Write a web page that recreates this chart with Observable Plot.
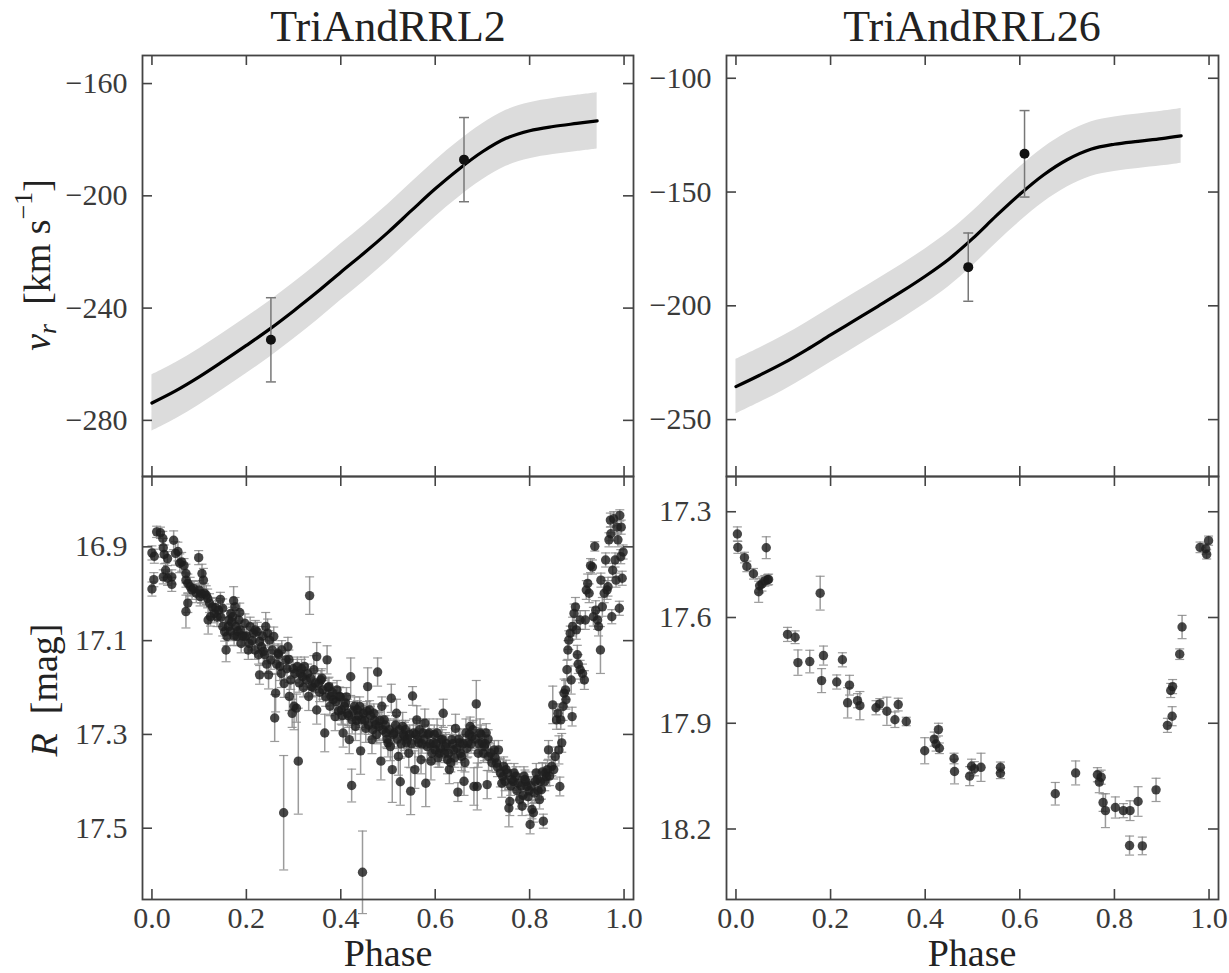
<!DOCTYPE html>
<html><head><meta charset="utf-8">
<script src="https://cdn.jsdelivr.net/npm/d3@7"></script>
<script src="https://cdn.jsdelivr.net/npm/@observablehq/plot@0.6"></script>
<style>
body{margin:0;background:#fff;}
#wrap{position:relative;width:1229px;height:973px;font-family:"Liberation Serif","Times New Roman","DejaVu Serif",Times,serif;color:#222;overflow:hidden;}
.lbl{position:absolute;white-space:nowrap;line-height:1;}
.sm{font-size:0.68em;}
svg text{font-family:"Liberation Serif","Times New Roman","DejaVu Serif",Times,serif !important;}
</style></head><body><div id="wrap"></div>
<script>
// ---------- data ----------
const phaseTicks = [0, 0.2, 0.4, 0.6, 0.8, 1.0];
const vTicks2 = [-280, -240, -200, -160];
const vTicks26 = [-250, -200, -150, -100];
const rTicks2 = [16.9, 17.1, 17.3, 17.5];
const rTicks26 = [17.3, 17.6, 17.9, 18.2];

// model curves: [phase, v, lower, upper]
const model2 = [[0,-273.8,-283.8,-263.8],[0.05,-269.5,-279.5,-259.5],[0.1,-264.5,-274.5,-254.5],[0.15,-259,-269,-249],[0.2,-253.3,-263.3,-243.3],[0.25,-247.4,-257.4,-237.4],[0.3,-241,-251,-231],[0.35,-234.3,-244.3,-224.3],[0.4,-227.2,-237.2,-217.2],[0.45,-220.3,-230.3,-210.3],[0.5,-213,-223,-203],[0.55,-205.2,-215.2,-195.2],[0.6,-197.5,-207.5,-187.5],[0.65,-190.5,-200.5,-180.5],[0.7,-184.3,-194.3,-174.3],[0.75,-179.5,-189.5,-169.5],[0.8,-176.8,-186.8,-166.8],[0.85,-175.3,-185.3,-165.3],[0.9,-174.2,-184.2,-164.2],[0.943,-173.3,-183.3,-163.3]];
const model26 = [[0,-235.5,-247.5,-223.5],[0.05,-230.5,-242.5,-218.5],[0.1,-225.2,-237.2,-213.2],[0.15,-219.2,-231.2,-207.2],[0.2,-212.8,-224.8,-200.8],[0.25,-206.5,-218.5,-194.5],[0.3,-200.2,-212.2,-188.2],[0.35,-193.8,-205.8,-181.8],[0.4,-187,-199,-175],[0.45,-179.5,-191.5,-167.5],[0.5,-170.5,-182.5,-158.5],[0.55,-160.5,-172.5,-148.5],[0.6,-151,-163,-139],[0.65,-142.5,-154.5,-130.5],[0.7,-135.8,-147.8,-123.8],[0.75,-131.2,-143.2,-119.2],[0.8,-129,-141,-117],[0.85,-127.7,-139.7,-115.7],[0.9,-126.5,-138.5,-114.5],[0.941,-125.3,-137.3,-113.3]];

// radial velocity observations: [phase, v, err]
const rv2 = [[0.252,-251.3,15],[0.661,-187.1,15]];
const rv26 = [[0.491,-183.0,15],[0.610,-133.2,19]];

// light curves: [phase, R, err]
const lc2 = [[0.000,16.913,.015],[0.005,16.92,.015],[0.004,16.97,.015],[0.000,16.99,.015],[0.010,16.868,.012],[0.018,16.87,.012],[0.023,16.882,.015],[0.024,16.902,.02],[0.026,16.916,.02],[0.033,16.925,.015],[0.029,16.95,.015],[0.024,16.964,.015],[0.033,16.967,.015],[0.042,16.964,.015],[0.046,16.886,.02],[0.050,16.914,.025],[0.055,16.91,.02],[0.042,16.98,.015],[0.059,16.935,.02],[0.063,16.932,.02],[0.068,16.94,.015],[0.072,16.957,.02],[0.072,16.971,.015],[0.076,16.978,.02],[0.072,17.038,.035],[0.076,17.02,.02],[0.081,16.985,.02],[0.085,16.992,.02],[0.089,16.989,.015],[0.094,16.999,.02],[0.099,16.923,.015],[0.100,16.992,.02],[0.102,17.006,.02],[0.106,16.957,.02],[0.109,16.971,.025],[0.111,16.999,.02],[0.115,17.003,.02],[0.119,17.056,.03],[0.124,17.049,.02],[0.128,17.028,.02],[0.132,17.042,.02],[0.141,17.035,.02],[0.145,17.012,.015],[0.150,17.031,.02],[0.150,17.07,.02],[0.154,17.081,.02],[0.157,17.12,.025],[0.159,17.091,.02],[0.163,17.056,.02],[0.167,17.042,.02],[0.171,17.049,.02],[0.173,17.015,.03],[0.176,17.028,.02],[0.178,17.07,.025],[0.180,17.091,.02],[0.184,17.056,.02],[0.187,17.077,.02],[0.189,17.106,.02],[0.196,17.091,.02],[0.197,17.063,.02],[0.206,17.106,.02],[0.208,17.07,.02],[0.215,17.084,.02],[0.219,17.077,.02],[0.223,17.081,.02],[0.228,17.102,.02],[0.228,17.173,.02],[0.232,17.113,.02],[0.236,17.123,.025],[0.241,17.07,.03],[0.245,17.084,.03],[0.247,17.173,.03],[0.249,17.099,.02],[0.252,17.141,.02],[0.258,17.091,.02],[0.260,17.265,.05],[0.262,17.212,.04],[0.267,17.127,.02],[0.271,17.155,.03],[0.274,17.17,.03],[0.275,17.12,.02],[0.279,17.467,.122],[0.280,17.191,.03],[0.284,17.141,.02],[0.288,17.113,.02],[0.291,17.219,.03],[0.294,17.184,.02],[0.297,17.255,.03],[0.301,17.24,.05],[0.306,17.244,.03],[0.310,17.357,.113],[0.308,17.155,.02],[0.314,17.17,.02],[0.319,17.177,.02],[0.323,17.155,.02],[0.327,17.184,.02],[0.332,17.219,.03],[0.334,17.004,.04],[0.338,17.198,.02],[0.343,17.162,.03],[0.349,17.134,.03],[0.349,17.248,.03],[0.353,17.191,.02],[0.358,17.184,.02],[0.362,17.205,.02],[0.366,17.297,.04],[0.371,17.141,.03],[0.375,17.198,.02],[0.379,17.219,.02],[0.384,17.226,.02],[0.388,17.262,.03],[0.392,17.205,.02],[0.397,17.219,.02],[0.401,17.248,.03],[0.405,17.297,.03],[0.410,17.233,.02],[0.414,17.255,.03],[0.418,17.311,.03],[0.421,17.177,.04],[0.423,17.409,.035],[0.424,17.269,.03],[0.429,17.24,.02],[0.431,17.283,.03],[0.435,17.248,.02],[0.442,17.335,.05],[0.446,17.594,.088],[0.444,17.269,.03],[0.448,17.255,.02],[0.453,17.287,.03],[0.457,17.198,.04],[0.461,17.248,.02],[0.466,17.311,.03],[0.470,17.255,.02],[0.474,17.279,.03],[0.478,17.167,.03],[0.481,17.283,.03],[0.485,17.357,.04],[0.487,17.24,.02],[0.492,17.269,.03],[0.496,17.297,.03],[0.500,17.318,.03],[0.505,17.326,.03],[0.507,17.223,.03],[0.509,17.375,.07],[0.513,17.297,.03],[0.518,17.255,.03],[0.522,17.347,.04],[0.526,17.401,.05],[0.531,17.283,.03],[0.535,17.304,.03],[0.539,17.318,.03],[0.544,17.34,.03],[0.548,17.421,.05],[0.552,17.218,.02],[0.554,17.297,.03],[0.557,17.375,.04],[0.561,17.269,.03],[0.565,17.318,.03],[0.570,17.354,.03],[0.574,17.297,.03],[0.578,17.276,.03],[0.580,17.404,.05],[0.583,17.326,.03],[0.587,17.297,.03],[0.591,17.357,.04],[0.596,17.318,.03],[0.600,17.333,.03],[0.604,17.297,.03],[0.609,17.34,.03],[0.613,17.311,.03],[0.617,17.255,.03],[0.622,17.326,.03],[0.626,17.354,.03],[0.630,17.375,.03],[0.635,17.311,.03],[0.639,17.333,.03],[0.643,17.287,.03],[0.648,17.423,.02],[0.652,17.318,.03],[0.656,17.347,.03],[0.661,17.40,.03],[0.665,17.297,.03],[0.669,17.318,.03],[0.674,17.283,.02],[0.678,17.304,.03],[0.682,17.411,.04],[0.687,17.235,.05],[0.689,17.411,.05],[0.691,17.34,.03],[0.695,17.297,.03],[0.700,17.318,.03],[0.704,17.326,.03],[0.708,17.297,.02],[0.710,17.407,.03],[0.713,17.347,.03],[0.717,17.34,.02],[0.725,17.333,.02],[0.730,17.361,.02],[0.734,17.333,.02],[0.738,17.382,.03],[0.741,17.404,.03],[0.745,17.368,.02],[0.750,17.375,.02],[0.753,17.382,.02],[0.756,17.457,.04],[0.758,17.443,.03],[0.762,17.396,.02],[0.767,17.382,.02],[0.771,17.389,.02],[0.776,17.404,.02],[0.779,17.439,.02],[0.784,17.453,.02],[0.788,17.389,.02],[0.790,17.396,.02],[0.794,17.411,.02],[0.797,17.433,.02],[0.801,17.492,.02],[0.805,17.46,.02],[0.808,17.467,.02],[0.810,17.425,.02],[0.814,17.382,.02],[0.816,17.396,.02],[0.821,17.439,.02],[0.825,17.418,.02],[0.829,17.485,.015],[0.834,17.382,.02],[0.838,17.375,.02],[0.840,17.333,.02],[0.842,17.389,.02],[0.847,17.368,.02],[0.849,17.237,.04],[0.851,17.375,.02],[0.854,17.347,.02],[0.857,17.269,.02],[0.860,17.255,.02],[0.862,17.333,.03],[0.864,17.411,.02],[0.866,17.269,.02],[0.868,17.318,.02],[0.871,17.24,.03],[0.873,17.212,.03],[0.876,17.205,.02],[0.877,17.226,.02],[0.879,17.162,.02],[0.881,17.12,.02],[0.883,17.099,.02],[0.886,17.084,.015],[0.888,17.184,.03],[0.890,17.262,.02],[0.891,17.07,.02],[0.894,17.042,.02],[0.897,17.028,.02],[0.899,17.077,.02],[0.901,17.13,.02],[0.903,17.15,.02],[0.907,17.056,.02],[0.907,17.162,.02],[0.912,17.17,.02],[0.916,17.184,.02],[0.918,17.056,.02],[0.920,16.992,.02],[0.923,16.978,.02],[0.926,16.999,.02],[0.929,16.94,.015],[0.933,16.943,.015],[0.935,17.049,.02],[0.938,16.899,.01],[0.940,17.035,.02],[0.944,17.056,.02],[0.946,17.07,.02],[0.950,17.12,.05],[0.951,16.971,.015],[0.954,17.028,.02],[0.958,16.999,.02],[0.961,16.928,.015],[0.964,16.992,.02],[0.966,16.985,.02],[0.968,16.885,.015],[0.971,16.843,.015],[0.972,16.872,.015],[0.974,17.049,.015],[0.976,16.95,.015],[0.978,16.84,.015],[0.981,16.928,.015],[0.983,16.971,.015],[0.985,16.858,.015],[0.987,16.885,.015],[0.990,17.031,.015],[0.991,16.833,.012],[0.993,16.921,.015],[0.994,16.858,.015],[0.996,16.967,.015],[0.998,16.911,.015],
[0.105,17.0,.02],[0.118,17.01,.02],[0.122,17.02,.02],[0.135,17.03,.02],[0.138,17.05,.02],[0.146,17.05,.02],[0.162,17.07,.02],[0.166,17.08,.02],[0.169,17.06,.02],[0.174,17.09,.02],[0.182,17.08,.02],[0.186,17.04,.02],[0.192,17.09,.02],[0.2,17.09,.02],[0.204,17.12,.02],[0.212,17.1,.02],[0.218,17.12,.02],[0.226,17.13,.02],[0.234,17.09,.02],[0.239,17.13,.02],[0.243,17.15,.02],[0.255,17.12,.02],[0.264,17.15,.02],[0.268,17.13,.02],[0.286,17.16,.02],[0.29,17.14,.02],[0.299,17.16,.02],[0.303,17.17,.02],[0.312,17.19,.02],[0.317,17.16,.02],[0.321,17.2,.02],[0.33,17.17,.02],[0.336,17.18,.02],[0.341,17.2,.02],[0.346,17.19,.02],[0.355,17.21,.02],[0.36,17.18,.02],[0.368,17.22,.02],[0.373,17.2,.02],[0.377,17.24,.02],[0.382,17.21,.02],[0.39,17.23,.02],[0.395,17.25,.02],[0.399,17.22,.02],[0.403,17.26,.02],[0.408,17.24,.02],[0.412,17.22,.02],[0.416,17.26,.02],[0.426,17.25,.02],[0.433,17.27,.02],[0.438,17.26,.02],[0.44,17.24,.02],[0.451,17.27,.02],[0.455,17.25,.02],[0.459,17.28,.02],[0.463,17.26,.02],[0.468,17.29,.02],[0.472,17.27,.02],[0.476,17.3,.02],[0.483,17.27,.02],[0.489,17.29,.02],[0.494,17.28,.02],[0.498,17.31,.02],[0.503,17.29,.02],[0.511,17.3,.02],[0.516,17.28,.02],[0.52,17.31,.02],[0.524,17.29,.02],[0.528,17.32,.02],[0.533,17.3,.02],[0.537,17.29,.02],[0.541,17.31,.02],[0.546,17.3,.02],[0.55,17.32,.02],[0.559,17.3,.02],[0.563,17.31,.02],[0.567,17.29,.02],[0.572,17.32,.02],[0.576,17.31,.02],[0.585,17.3,.02],[0.589,17.32,.02],[0.593,17.34,.02],[0.598,17.3,.02],[0.602,17.32,.02],[0.606,17.35,.02],[0.611,17.33,.02],[0.615,17.31,.02],[0.62,17.34,.02],[0.624,17.32,.02],[0.628,17.34,.02],[0.633,17.36,.02],[0.637,17.32,.02],[0.641,17.35,.02],[0.646,17.33,.02],[0.65,17.31,.02],[0.654,17.34,.02],[0.659,17.32,.02],[0.663,17.36,.02],[0.667,17.33,.02],[0.672,17.3,.02],[0.676,17.32,.02],[0.68,17.29,.02],[0.685,17.31,.02],[0.693,17.32,.02],[0.697,17.3,.02],[0.702,17.34,.02],[0.706,17.32,.02],[0.712,17.31,.02],[0.72,17.36,.02],[0.727,17.35,.02],[0.732,17.37,.02],[0.743,17.39,.02],[0.748,17.4,.02],[0.76,17.41,.02],[0.765,17.4,.02],[0.773,17.42,.02],[0.782,17.41,.02],[0.786,17.43,.02],[0.792,17.4,.02],[0.799,17.42,.02],[0.803,17.41,.02],[0.812,17.4,.02],[0.818,17.42,.02],[0.823,17.4,.02],[0.827,17.38,.02],[0.832,17.4,.02],[0.836,17.39,.02]];

const lc26 = [[0.003,17.363,.02],[0.004,17.401,.017],[0.018,17.43,.015],[0.023,17.455,.015],[0.037,17.476,.015],[0.048,17.527,.03],[0.05,17.51,.02],[0.055,17.505,.02],[0.061,17.496,.015],[0.064,17.402,.031],[0.067,17.493,.015],[0.069,17.492,.015],[0.178,17.531,.048],[0.109,17.648,.02],[0.125,17.656,.018],[0.131,17.728,.036],[0.156,17.725,.032],[0.185,17.708,.027],[0.181,17.779,.034],[0.213,17.783,.02],[0.225,17.72,.02],[0.24,17.792,.028],[0.236,17.842,.043],[0.257,17.836,.02],[0.262,17.85,.04],[0.296,17.856,.02],[0.304,17.845,.015],[0.319,17.866,.04],[0.336,17.89,.022],[0.343,17.847,.018],[0.36,17.895,.012],[0.399,17.978,.037],[0.419,17.945,.02],[0.428,17.918,.018],[0.423,17.959,.02],[0.43,17.971,.015],[0.461,18.0,.015],[0.462,18.037,.035],[0.494,18.05,.027],[0.498,18.022,.02],[0.504,18.029,.02],[0.518,18.025,.04],[0.559,18.025,.015],[0.559,18.042,.015],[0.675,18.1,.032],[0.718,18.041,.034],[0.764,18.046,.02],[0.772,18.053,.02],[0.768,18.067,.03],[0.776,18.125,.025],[0.781,18.148,.048],[0.802,18.139,.03],[0.819,18.148,.02],[0.833,18.148,.028],[0.85,18.122,.042],[0.832,18.247,.027],[0.859,18.248,.025],[0.888,18.089,.033],[0.912,17.906,.02],[0.922,17.88,.027],[0.919,17.807,.02],[0.923,17.796,.02],[0.943,17.627,.033],[0.938,17.704,.015],[0.999,17.382,.013],[0.981,17.401,.015],[0.993,17.405,.015],[0.995,17.421,.013]];

const titles = ["TriAndRRL2", "TriAndRRL26"];

// ---------- drawing ----------
const FONT = '"Liberation Serif","Times New Roman","DejaVu Serif",Times,serif';
const AX = "#444";
const TICKLEN = 10;
const wrap = document.getElementById("wrap");

function capSym(){ return {draw(ctx, size){ const r = Math.sqrt(size/Math.PI); ctx.moveTo(-r,0); ctx.lineTo(r,0);} }; }
const minus = d => (d < 0 ? "\u2212" + Math.abs(d) : String(d));

function panel(cfg){
  const {left, top, width, height, mL, mR, mT, mB, xDom, yDom, yRev, yTicks, yFmt, xLabels, marks} = cfg;
  const fw = width - mL - mR, fh = height - mT - mB;
  const tickStyle = {stroke: AX, strokeWidth: 1.6};
  const svg = Plot.plot({
    width, height, marginLeft: mL, marginRight: mR, marginTop: mT, marginBottom: mB,
    style: {background: "transparent", overflow: "visible", fontFamily: FONT, fontSize: "30px", color: "#3a3a3a"},
    x: {domain: xDom, axis: null},
    y: {domain: yDom, reverse: yRev, axis: null},
    marks: [
      ...marks,
      Plot.ruleY(yTicks, {y: d => d, insetRight: fw - TICKLEN, ...tickStyle}),
      Plot.ruleY(yTicks, {y: d => d, insetLeft: fw - TICKLEN, ...tickStyle}),
      Plot.ruleX(phaseTicks, {x: d => d, insetBottom: fh - TICKLEN, ...tickStyle}),
      Plot.ruleX(phaseTicks, {x: d => d, insetTop: fh - TICKLEN, ...tickStyle}),
      Plot.frame({stroke: AX, strokeWidth: 1.8}),
      Plot.axisY(yTicks, {anchor: "left", tickSize: 0, tickPadding: 15, tickFormat: yFmt, label: null, fontSize: 30}),
      xLabels ? Plot.axisX(phaseTicks, {anchor: "bottom", tickSize: 0, tickPadding: 7, tickFormat: d => d.toFixed(1), label: null, fontSize: 30}) : null
    ]
  });
  svg.style.left = left + "px";
  svg.style.top = top + "px";
  svg.style.position = "absolute";
  wrap.appendChild(svg);
}

function rvMarks(model, obs){
  return [
    Plot.areaY(model, {x: d => d[0], y1: d => d[2], y2: d => d[3], fill: "#dcdcdc", curve: "catmull-rom"}),
    Plot.line(model, {x: d => d[0], y: d => d[1], stroke: "#000", strokeWidth: 3.2, curve: "catmull-rom"}),
    Plot.ruleX(obs, {x: d => d[0], y1: d => d[1] - d[2], y2: d => d[1] + d[2], stroke: "#777", strokeWidth: 1.5}),
    Plot.dot(obs, {x: d => d[0], y: d => d[1] - d[2], symbol: capSym(), r: 5, stroke: "#777", strokeWidth: 1.5}),
    Plot.dot(obs, {x: d => d[0], y: d => d[1] + d[2], symbol: capSym(), r: 5, stroke: "#777", strokeWidth: 1.5}),
    Plot.dot(obs, {x: d => d[0], y: d => d[1], r: 5, fill: "#111", stroke: null})
  ];
}
function lcMarks(lc){
  return [
    Plot.ruleX(lc, {x: d => d[0], y1: d => d[1] - d[2], y2: d => d[1] + d[2], stroke: "#8a8a8a", strokeOpacity: 0.85, strokeWidth: 1.5}),
    Plot.dot(lc, {x: d => d[0], y: d => d[1] - d[2], symbol: capSym(), r: 4.5, stroke: "#8a8a8a", strokeOpacity: 0.85, strokeWidth: 1.2}),
    Plot.dot(lc, {x: d => d[0], y: d => d[1] + d[2], symbol: capSym(), r: 4.5, stroke: "#8a8a8a", strokeOpacity: 0.85, strokeWidth: 1.2}),
    Plot.dot(lc, {x: d => d[0], y: d => d[1], r: 4.7, fill: "#1e1e1e", fillOpacity: 0.82, stroke: null})
  ];
}

const XD = [-0.02, 1.02];
panel({left: 0, top: 0, width: 640, height: 476, mL: 142, mR: 7, mT: 55, mB: 0, xDom: XD, yDom: [-300, -150], yRev: false, yTicks: vTicks2, yFmt: minus, xLabels: false, marks: rvMarks(model2, rv2)});
panel({left: 640, top: 0, width: 589, height: 476, mL: 86, mR: 11, mT: 55, mB: 0, xDom: XD, yDom: [-275, -90], yRev: false, yTicks: vTicks26, yFmt: minus, xLabels: false, marks: rvMarks(model26, rv26)});
panel({left: 0, top: 476, width: 640, height: 497, mL: 142, mR: 7, mT: 0, mB: 74, xDom: XD, yDom: [16.75, 17.652], yRev: true, yTicks: rTicks2, yFmt: d => d.toFixed(1), xLabels: true, marks: lcMarks(lc2)});
panel({left: 640, top: 476, width: 589, height: 497, mL: 86, mR: 11, mT: 0, mB: 74, xDom: XD, yDom: [17.2, 18.4], yRev: true, yTicks: rTicks26, yFmt: d => d.toFixed(1), xLabels: true, marks: lcMarks(lc26)});

// ---------- text ----------
function label(html, x, y, size, rotate){
  const el = document.createElement("div");
  el.className = "lbl";
  el.innerHTML = html;
  el.style.left = x + "px";
  el.style.top = y + "px";
  el.style.fontSize = size + "px";
  el.style.transform = "translate(-50%,-50%)" + (rotate ? " rotate(-90deg)" : "");
  wrap.appendChild(el);
}
label(titles[0], 388, 27, 44);
label(titles[1], 972, 27, 44);
label("Phase", 388, 953, 38);
label("Phase", 972, 953, 38);
label('<i>v</i><sub class="sm" style="font-style:italic;vertical-align:-0.25em">r</sub>&nbsp;&nbsp;[km s<sup class="sm" style="vertical-align:0.7em">\u22121</sup>]', 36, 265, 38, true);
label('<i>R</i>&nbsp;&nbsp;[mag]', 44, 690, 38, true);
</script>
</body></html>
